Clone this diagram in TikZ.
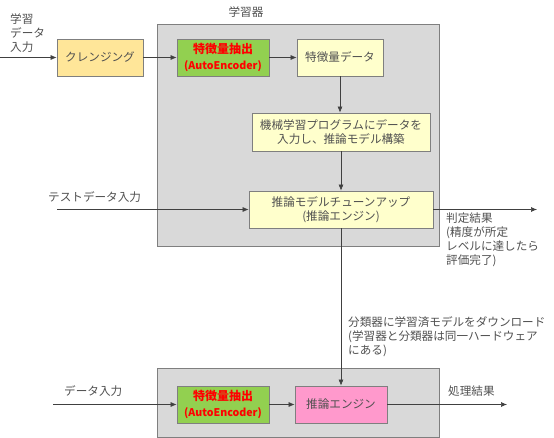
\documentclass[tikz,border=0pt]{standalone}
\usepackage{fontspec}
\setmainfont{Noto Sans CJK JP}
\usetikzlibrary{arrows.meta}
\definecolor{txt}{HTML}{505050}
\definecolor{edge}{HTML}{7F7F7F}
\definecolor{bg}{HTML}{D9D9D9}
\definecolor{orangebox}{HTML}{FFE699}
\definecolor{greenbox}{HTML}{92D050}
\definecolor{yellowbox}{HTML}{FFFFCC}
\definecolor{pinkbox}{HTML}{FF99CC}
\definecolor{redtxt}{HTML}{FF0000}
\definecolor{linec}{HTML}{404040}
\newcommand{\aesub}{{\fontsize{10.6}{16}\selectfont(AutoEncoder)}}
\tikzset{
  x=1pt, y=-1pt,
  every node/.style={font=\fontsize{11.6}{14}\selectfont, text=txt, inner sep=0pt, align=center},
  area/.style={draw=edge, fill=bg, line width=0.8pt},
  box/.style={draw=edge, line width=0.8pt},
  redlbl/.style={font=\fontsize{12}{16}\selectfont\bfseries, text=redtxt},
  conn/.style={draw=linec, line width=0.6pt, -{Latex[length=6pt,width=5pt]}},
  lbl/.style={align=left, anchor=north west},
}
\begin{document}
\begin{tikzpicture}
\useasboundingbox (0,0) rectangle (554,438);
% gray areas
\node[area, minimum width=282pt, minimum height=222pt, anchor=north west] (learner) at (157,24) {};
\node[area, minimum width=282pt, minimum height=69pt, anchor=north west] (classifier) at (157,368) {};
\node (learnerlbl) at (246,12) {学習器};
% boxes
\node[box, fill=orangebox, minimum width=86pt, minimum height=37pt] (cleanse) at (100,57.5) {クレンジング};
\node[box, fill=greenbox, minimum width=92pt, minimum height=37pt, redlbl] (feat1) at (223,57.5) {特徴量抽出\\\aesub};
\node[box, fill=yellowbox, minimum width=86pt, minimum height=37pt] (featdata) at (340,57.5) {特徴量データ};
\node[box, fill=yellowbox, minimum width=178pt, minimum height=38pt] (ml) at (341,132) {機械学習プログラムにデータを\\入力し、推論モデル構築};
\node[box, fill=yellowbox, minimum width=184pt, minimum height=37pt] (tune) at (341,209.5) {推論モデルチューンアップ\\(推論エンジン)};
\node[box, fill=greenbox, minimum width=92pt, minimum height=37pt, redlbl] (feat2) at (223,404.5) {特徴量抽出\\\aesub};
\node[box, fill=pinkbox, minimum width=92pt, minimum height=37pt] (engine) at (341,404.5) {推論エンジン};
% coordinates
\coordinate (in1) at (0,57.5);
\coordinate (test) at (57,209.5);
\coordinate (out1) at (537,209.5);
\coordinate (in2) at (53,404.5);
\coordinate (out2) at (507,404.5);
% connectors
\draw[conn] (in1) -- (cleanse.west);
\draw[conn] (cleanse.east) -- (feat1.west);
\draw[conn] (feat1.east) -- (featdata.west);
\draw[conn] (featdata.south) -- (featdata.south |- ml.north);
\draw[conn] (ml.south) -- (tune.north);
\draw[conn] (test) -- (tune.west);
\draw[conn] (tune.east) -- (out1);
\draw[conn] (tune.south) -- (engine.north);
\draw[conn] (in2) -- (feat2.west);
\draw[conn] (feat2.east) -- (engine.west);
\draw[conn] (engine.east) -- (out2);
% labels
\node[lbl] (inlbl) at (10,14) {学習\\データ\\入力};
\node[anchor=west] (testlbl) at (48,197) {テストデータ入力};
\node[lbl] (resultlbl) at (446,213) {判定結果\\(精度が所定\\レベルに達したら\\評価完了)};
\node[lbl] (dllbl) at (348,316) {分類器に学習済モデルをダウンロード\\(学習器と分類器は同一ハードウェア\\にある)};
\node[anchor=west] (datalbl) at (64,391) {データ入力};
\node[anchor=west] (proclbl) at (448,391) {処理結果};
\end{tikzpicture}
\end{document}
